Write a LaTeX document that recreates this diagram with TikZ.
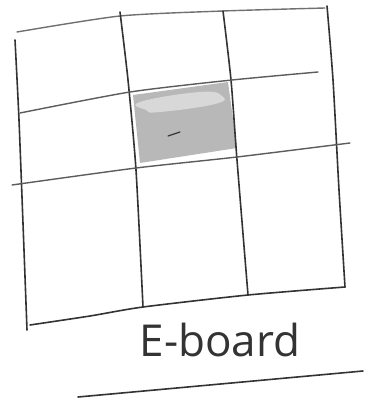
\documentclass[tikz,border=0pt]{standalone}
\usepackage{fontspec}
\setsansfont{Open Sans}
\usepackage{tikz}
\definecolor{pencil}{HTML}{333333}
\definecolor{cellgray}{HTML}{B8B8B8}

\begin{document}
\begin{tikzpicture}[x=1pt,y=-1pt,line cap=round,line join=round]
  \useasboundingbox (0,0) rectangle (364,398);
  % shaded middle square
  \fill[cellgray] (133,95) -- (228,82) -- (237,148) -- (140,163) -- cycle;
  \fill[cellgray!55] plot[smooth cycle,tension=0.8]
    coordinates {(140,102) (200,92) (222,96) (215,104) (160,112) (146,110)};
  \draw[pencil,line width=1.2pt] (168,136) -- (180,132);
  % outer frame
  \draw[pencil!70,line width=1.4pt] plot[smooth,tension=0.4]
    coordinates {(17,32) (120,16) (223,11) (325,8)};
  \draw[pencil,line width=1.6pt] plot[smooth,tension=0.4]
    coordinates {(15,40) (19,120) (24,250) (27,330)};
  \draw[pencil,line width=1.6pt] plot[smooth,tension=0.4]
    coordinates {(327,6) (333,80) (339,190) (345,287)};
  \draw[pencil,line width=1.6pt] plot[smooth,tension=0.4]
    coordinates {(30,325) (90,316) (143,307) (248,295) (345,287)};
  % inner lines
  \draw[pencil,line width=1.6pt] plot[smooth,tension=0.4]
    coordinates {(120,12) (128,80) (136,170) (143,307)};
  \draw[pencil,line width=1.6pt] plot[smooth,tension=0.4]
    coordinates {(223,11) (231,80) (237,160) (248,295)};
  \draw[pencil!80,line width=1.4pt] plot[smooth,tension=0.4]
    coordinates {(20,113) (130,92) (232,80) (318,72)};
  \draw[pencil!80,line width=1.4pt] plot[smooth,tension=0.4]
    coordinates {(12,185) (136,168) (237,157) (350,143)};
  % caption
  \node[pencil,font=\sffamily\fontsize{44}{52}\selectfont] (caption) at (220,340) {E-board};
  \draw[pencil,line width=1.6pt] (78,397) -- (363,371);
\end{tikzpicture}
\end{document}
